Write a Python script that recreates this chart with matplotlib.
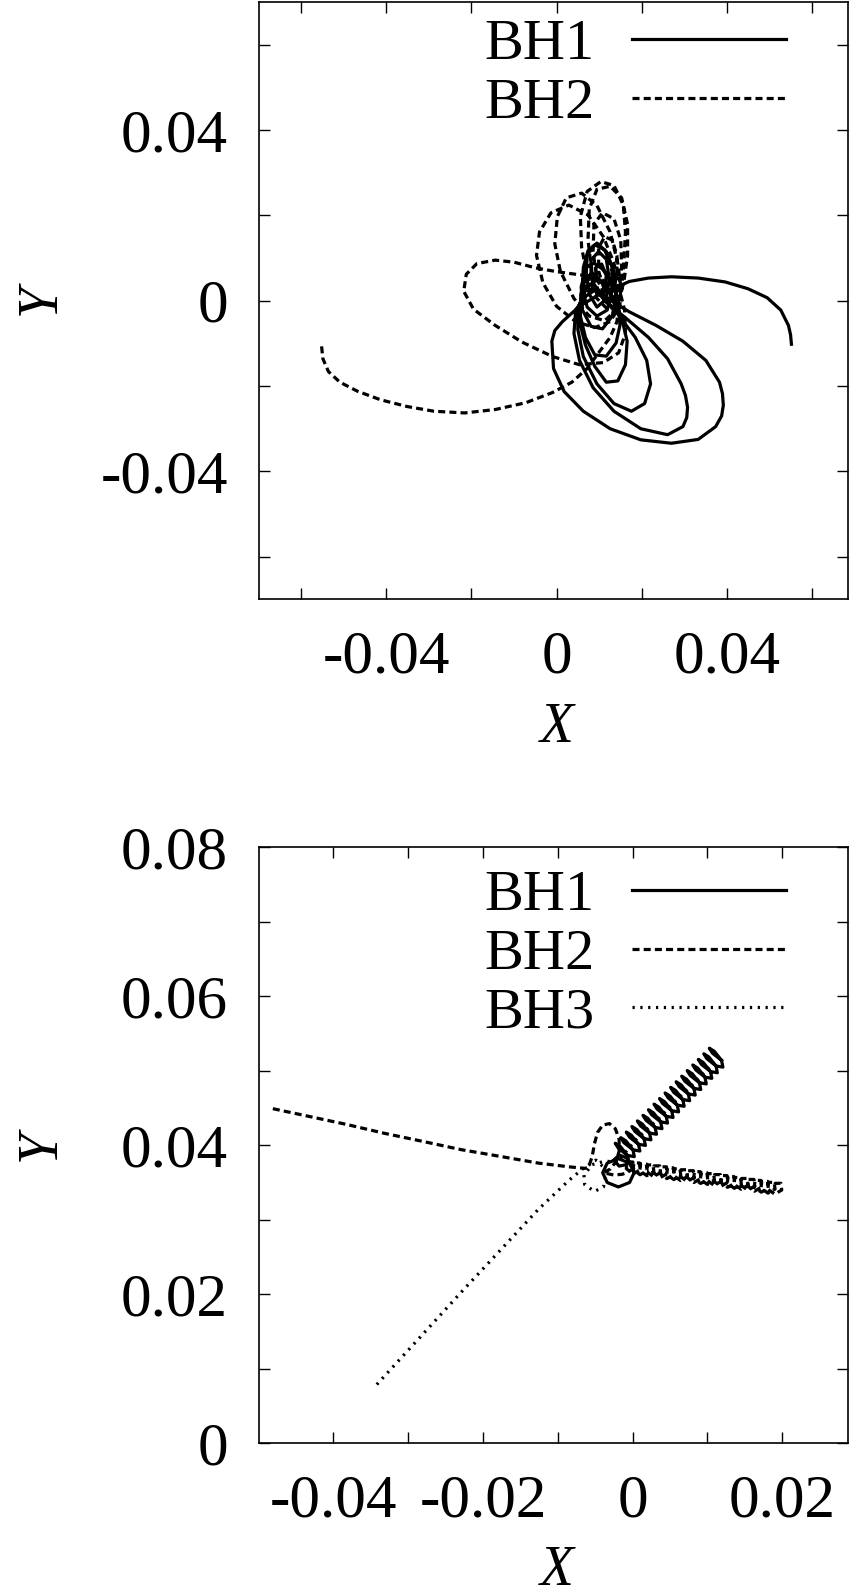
import numpy as np
import matplotlib
matplotlib.use("Agg")
import matplotlib.pyplot as plt

# ---------------- ticks ----------------
top_ticks = [-0.06, -0.04, -0.02, 0.0, 0.02, 0.04, 0.06]
top_ticklabels = ['', '-0.04', '', '0', '', '0.04', '']
bot_xticks = [-0.04, -0.03, -0.02, -0.01, 0.0, 0.01, 0.02]
bot_xticklabels = ['-0.04', '', '-0.02', '', '0', '', '0.02']
bot_yticks = [0.0, 0.01, 0.02, 0.03, 0.04, 0.05, 0.06, 0.07, 0.08]
bot_yticklabels = ['0', '', '0.02', '', '0.04', '', '0.06', '', '0.08']

# ---------------- top panel: two holes (x, y) ----------------
top_bh1 = [
    (0.0552, -0.0102), (0.0550, -0.0080), (0.0545, -0.0058), (0.0527, -0.0022), (0.0495, 0.0007),
    (0.0450, 0.0028), (0.0396, 0.0044), (0.0333, 0.0053), (0.0270, 0.0056), (0.0216, 0.0053),
    (0.0171, 0.0045), (0.0144, 0.0033), (0.0108, 0.0019), (0.0054, -0.0013),
    (0.0014, -0.0049), (-0.0004, -0.0070), (-0.0011, -0.0095), (-0.0007, -0.0159), (0.0018, -0.0213),
    (0.0063, -0.0259), (0.0126, -0.0300), (0.0198, -0.0326), (0.0270, -0.0334), (0.0333, -0.0325),
    (0.0374, -0.0295), (0.0388, -0.0270), (0.0392, -0.0245), (0.0390, -0.0218), (0.0383, -0.0191),
    (0.0351, -0.0140), (0.0297, -0.0095), (0.0234, -0.0058), (0.0171, -0.0026), (0.0126, 0.0001),
    (0.0095, 0.0028),
    (0.0068, 0.0010), (0.0045, -0.0022), (0.0041, -0.0077), (0.0054, -0.0140), (0.0086, -0.0204),
    (0.0135, -0.0259), (0.0198, -0.0300), (0.0261, -0.0314), (0.0297, -0.0295), (0.0306, -0.0274),
    (0.0308, -0.0250), (0.0303, -0.0222), (0.0293, -0.0195), (0.0261, -0.0136), (0.0216, -0.0086),
    (0.0162, -0.0040), (0.0117, -0.0004), (0.0090, 0.0028),
    (0.0068, 0.0024), (0.0052, -0.0013), (0.0050, -0.0067), (0.0063, -0.0131), (0.0095, -0.0195),
    (0.0135, -0.0241), (0.0176, -0.0259), (0.0207, -0.0241), (0.0221, -0.0195), (0.0212, -0.0140),
    (0.0185, -0.0086), (0.0144, -0.0031), (0.0108, 0.0010), (0.0086, 0.0042),
    (0.0068, 0.0033), (0.0056, -0.0004), (0.0054, -0.0049), (0.0068, -0.0104), (0.0090, -0.0154),
    (0.0117, -0.0191), (0.0144, -0.0188), (0.0162, -0.0150), (0.0166, -0.0095), (0.0153, -0.0040),
    (0.0131, 0.0010), (0.0104, 0.0047), (0.0084, 0.0065),
    (0.0068, 0.0051), (0.0057, 0.0015), (0.0056, -0.0036), (0.0068, -0.0086), (0.0090, -0.0127),
    (0.0117, -0.0130), (0.0140, -0.0099), (0.0149, -0.0058), (0.0146, -0.0004), (0.0131, 0.0042),
    (0.0108, 0.0074), (0.0088, 0.0088),
    (0.0070, 0.0078), (0.0058, 0.0033), (0.0061, -0.0022), (0.0081, -0.0060), (0.0108, -0.0066),
    (0.0131, -0.0036), (0.0140, 0.0015), (0.0135, 0.0069), (0.0117, 0.0115), (0.0095, 0.0135),
    (0.0074, 0.0117),
    (0.0063, 0.0078), (0.0061, 0.0028), (0.0072, -0.0015), (0.0095, -0.0036), (0.0119, -0.0022),
    (0.0131, 0.0024), (0.0131, 0.0078), (0.0113, 0.0119), (0.0090, 0.0131), (0.0072, 0.0106),
    (0.0070, 0.0065), (0.0077, 0.0015), (0.0095, -0.0015), (0.0117, 0.0004), (0.0124, 0.0051),
    (0.0117, 0.0097), (0.0099, 0.0115), (0.0081, 0.0095),
    (0.0081, 0.0056), (0.0095, 0.0015), (0.0113, 0.0024), (0.0117, 0.0060), (0.0106, 0.0086),
    (0.0092, 0.0077), (0.0095, 0.0047),
]

top_bh2 = [
    (-0.0552, -0.0107), (-0.0549, -0.0136), (-0.0536, -0.0166), (-0.0509, -0.0191), (-0.0468, -0.0212),
    (-0.0414, -0.0232), (-0.0351, -0.0248), (-0.0288, -0.0259), (-0.0216, -0.0263), (-0.0144, -0.0255),
    (-0.0072, -0.0239), (-0.0009, -0.0215), (0.0036, -0.0191), (0.0072, -0.0159), (0.0099, -0.0122),
    (0.0126, -0.0086), (0.0142, -0.0049), (0.0146, -0.0008), (0.0135, 0.0028), (0.0106, 0.0050),
    (0.0059, 0.0060), (0.0000, 0.0068), (-0.0050, 0.0077), (-0.0099, 0.0090), (-0.0144, 0.0095),
    (-0.0187, 0.0087), (-0.0212, 0.0062), (-0.0218, 0.0022), (-0.0195, -0.0020), (-0.0144, -0.0058),
    (-0.0081, -0.0097), (-0.0009, -0.0131), (0.0054, -0.0150), (0.0110, -0.0145), (0.0146, -0.0122),
    (0.0162, -0.0077), (0.0160, -0.0022), (0.0146, 0.0033),
    (0.0135, 0.0088), (0.0110, 0.0150), (0.0074, 0.0201), (0.0029, 0.0224), (-0.0013, 0.0206),
    (-0.0040, 0.0161), (-0.0047, 0.0106), (-0.0032, 0.0042), (0.0000, -0.0013), (0.0045, -0.0049),
    (0.0090, -0.0063), (0.0126, -0.0049), (0.0149, -0.0013), (0.0151, 0.0033),
    (0.0144, 0.0088), (0.0126, 0.0161), (0.0095, 0.0223), (0.0059, 0.0252), (0.0023, 0.0241),
    (0.0002, 0.0197), (-0.0004, 0.0133), (0.0009, 0.0069), (0.0041, 0.0005), (0.0077, -0.0036),
    (0.0113, -0.0047), (0.0140, -0.0022), (0.0153, 0.0024),
    (0.0158, 0.0088), (0.0162, 0.0161), (0.0157, 0.0224), (0.0135, 0.0270), (0.0104, 0.0279),
    (0.0072, 0.0256), (0.0056, 0.0197), (0.0059, 0.0124), (0.0072, 0.0060), (0.0095, 0.0005),
    (0.0122, -0.0022), (0.0144, -0.0005), (0.0158, 0.0042),
    (0.0167, 0.0106), (0.0167, 0.0179), (0.0153, 0.0241), (0.0126, 0.0268), (0.0095, 0.0261),
    (0.0077, 0.0215), (0.0074, 0.0142), (0.0083, 0.0069), (0.0101, 0.0015), (0.0126, -0.0004),
    (0.0144, 0.0024),
    (0.0153, 0.0078), (0.0151, 0.0142), (0.0135, 0.0192), (0.0108, 0.0206), (0.0088, 0.0179),
    (0.0086, 0.0115), (0.0095, 0.0051), (0.0113, 0.0015), (0.0133, 0.0024), (0.0142, 0.0060),
    (0.0142, 0.0106), (0.0131, 0.0142), (0.0113, 0.0150), (0.0099, 0.0124), (0.0099, 0.0069),
    (0.0110, 0.0033), (0.0126, 0.0037), (0.0131, 0.0069), (0.0122, 0.0088),
]

# ---------------- bottom panel: three holes ----------------
bot_bh1 = [
    (0.0002, 0.0363), (-0.0004, 0.0376), (-0.0019, 0.0382), (-0.0034, 0.0376), (-0.0040, 0.0363),
    (-0.0034, 0.0350), (-0.0019, 0.0344), (-0.0004, 0.0350), (0.0002, 0.0363),
    (0.0000, 0.0372), (-0.0008, 0.0383), (-0.0018, 0.0387), (-0.0025, 0.0380), (-0.0018, 0.0372),
    (-0.0008, 0.0374),
    (-0.00051, 0.03772), (-0.00069, 0.03863), (-0.00165, 0.03984), (-0.00232, 0.04026), (-0.00190, 0.03959), (-0.00068, 0.03863),
    (0.00023, 0.03847), (0.00005, 0.03938), (-0.00091, 0.04059), (-0.00158, 0.04101), (-0.00116, 0.04034), (0.00006, 0.03938),
    (0.00097, 0.03922), (0.00079, 0.04013), (-0.00017, 0.04134), (-0.00084, 0.04176), (-0.00042, 0.04109), (0.00080, 0.04013),
    (0.00171, 0.03997), (0.00153, 0.04088), (0.00057, 0.04209), (-0.00010, 0.04251), (0.00032, 0.04184), (0.00154, 0.04088),
    (0.00245, 0.04072), (0.00227, 0.04163), (0.00131, 0.04284), (0.00064, 0.04326), (0.00106, 0.04259), (0.00228, 0.04163),
    (0.00319, 0.04147), (0.00301, 0.04238), (0.00205, 0.04359), (0.00138, 0.04401), (0.00180, 0.04334), (0.00302, 0.04238),
    (0.00393, 0.04222), (0.00375, 0.04313), (0.00279, 0.04434), (0.00212, 0.04476), (0.00254, 0.04409), (0.00376, 0.04313),
    (0.00467, 0.04297), (0.00449, 0.04388), (0.00353, 0.04509), (0.00286, 0.04551), (0.00328, 0.04484), (0.00450, 0.04388),
    (0.00541, 0.04372), (0.00523, 0.04463), (0.00427, 0.04584), (0.00360, 0.04626), (0.00402, 0.04559), (0.00524, 0.04463),
    (0.00615, 0.04447), (0.00597, 0.04538), (0.00501, 0.04659), (0.00434, 0.04701), (0.00476, 0.04634), (0.00598, 0.04538),
    (0.00689, 0.04522), (0.00671, 0.04613), (0.00575, 0.04734), (0.00508, 0.04776), (0.00550, 0.04709), (0.00672, 0.04613),
    (0.00763, 0.04597), (0.00745, 0.04688), (0.00649, 0.04809), (0.00582, 0.04851), (0.00624, 0.04784), (0.00746, 0.04688),
    (0.00837, 0.04672), (0.00819, 0.04763), (0.00723, 0.04884), (0.00656, 0.04926), (0.00698, 0.04859), (0.00820, 0.04763),
    (0.00911, 0.04747), (0.00893, 0.04838), (0.00797, 0.04959), (0.00730, 0.05001), (0.00772, 0.04934), (0.00894, 0.04838),
    (0.00985, 0.04822), (0.00967, 0.04913), (0.00871, 0.05034), (0.00804, 0.05076), (0.00846, 0.05009), (0.00968, 0.04913),
    (0.01059, 0.04897), (0.01041, 0.04988), (0.00945, 0.05109), (0.00878, 0.05151), (0.00920, 0.05084), (0.01042, 0.04988),
    (0.01133, 0.04972), (0.01115, 0.05063), (0.01019, 0.05184), (0.00952, 0.05226), (0.00994, 0.05159), (0.01116, 0.05063),
    (0.01207, 0.05047), (0.01189, 0.05138), (0.01093, 0.05259), (0.01026, 0.05301), (0.01068, 0.05234), (0.01190, 0.05138),
]

bot_bh2 = [
    (-0.0481, 0.0449), (-0.0434, 0.0439), (-0.0383, 0.0428), (-0.0332, 0.0416), (-0.0280, 0.0405),
    (-0.0229, 0.0394), (-0.0177, 0.0385), (-0.0126, 0.0376), (-0.0085, 0.0371), (-0.0064, 0.0369),
    (-0.0059, 0.0370), (-0.0054, 0.0385), (-0.0051, 0.0402), (-0.0047, 0.0417), (-0.0040, 0.0427),
    (-0.0031, 0.0429), (-0.0023, 0.0422), (-0.0018, 0.0408), (-0.0018, 0.0392), (-0.0022, 0.0378),
    (-0.0030, 0.0368), (-0.0039, 0.0363), (-0.0025, 0.0360), (-0.0014, 0.0361),
    (-0.00080, 0.03630), (0.00014, 0.03685), (0.00003, 0.03775), (-0.00073, 0.03775), (-0.00084, 0.03685),
    (0.00010, 0.03617), (0.00104, 0.03672), (0.00093, 0.03762), (0.00017, 0.03762), (0.00006, 0.03672),
    (0.00100, 0.03604), (0.00194, 0.03659), (0.00183, 0.03749), (0.00107, 0.03749), (0.00096, 0.03659),
    (0.00190, 0.03591), (0.00284, 0.03646), (0.00273, 0.03736), (0.00197, 0.03736), (0.00186, 0.03646),
    (0.00280, 0.03578), (0.00374, 0.03633), (0.00363, 0.03723), (0.00287, 0.03723), (0.00276, 0.03633),
    (0.00370, 0.03565), (0.00464, 0.03620), (0.00453, 0.03710), (0.00377, 0.03710), (0.00366, 0.03620),
    (0.00460, 0.03552), (0.00554, 0.03607), (0.00543, 0.03697), (0.00467, 0.03697), (0.00456, 0.03607),
    (0.00550, 0.03539), (0.00644, 0.03594), (0.00633, 0.03684), (0.00557, 0.03684), (0.00546, 0.03594),
    (0.00640, 0.03526), (0.00734, 0.03581), (0.00723, 0.03671), (0.00647, 0.03671), (0.00636, 0.03581),
    (0.00730, 0.03513), (0.00824, 0.03568), (0.00813, 0.03658), (0.00737, 0.03658), (0.00726, 0.03568),
    (0.00820, 0.03500), (0.00914, 0.03555), (0.00903, 0.03645), (0.00827, 0.03645), (0.00816, 0.03555),
    (0.00910, 0.03487), (0.01004, 0.03542), (0.00993, 0.03632), (0.00917, 0.03632), (0.00906, 0.03542),
    (0.01000, 0.03474), (0.01094, 0.03529), (0.01083, 0.03619), (0.01007, 0.03619), (0.00996, 0.03529),
    (0.01090, 0.03461), (0.01184, 0.03516), (0.01173, 0.03606), (0.01097, 0.03606), (0.01086, 0.03516),
    (0.01180, 0.03448), (0.01274, 0.03503), (0.01263, 0.03593), (0.01187, 0.03593), (0.01176, 0.03503),
    (0.01270, 0.03435), (0.01364, 0.03490), (0.01353, 0.03580), (0.01277, 0.03580), (0.01266, 0.03490),
    (0.01360, 0.03422), (0.01454, 0.03477), (0.01443, 0.03567), (0.01367, 0.03567), (0.01356, 0.03477),
    (0.01450, 0.03409), (0.01544, 0.03464), (0.01533, 0.03554), (0.01457, 0.03554), (0.01446, 0.03464),
    (0.01540, 0.03396), (0.01634, 0.03451), (0.01623, 0.03541), (0.01547, 0.03541), (0.01536, 0.03451),
    (0.01630, 0.03383), (0.01724, 0.03438), (0.01713, 0.03528), (0.01637, 0.03528), (0.01626, 0.03438),
    (0.01720, 0.03370), (0.01814, 0.03425), (0.01803, 0.03515), (0.01727, 0.03515), (0.01716, 0.03425),
    (0.01810, 0.03357), (0.01904, 0.03412), (0.01893, 0.03502), (0.01817, 0.03502), (0.01806, 0.03412),
    (0.01900, 0.03344), (0.01994, 0.03399), (0.01983, 0.03489), (0.01907, 0.03489), (0.01896, 0.03399),
]

bot_bh3 = [
    (-0.0342, 0.0079), (-0.0280, 0.0147), (-0.0229, 0.0203), (-0.0177, 0.0259), (-0.0126, 0.0314),
    (-0.0085, 0.0353), (-0.0067, 0.0368), (-0.0049, 0.0380), (-0.0034, 0.0366), (-0.0039, 0.0344),
    (-0.0051, 0.0338), (-0.0064, 0.0347), (-0.0065, 0.0360), (-0.0054, 0.0374), (-0.0036, 0.0379),
    (-0.0021, 0.0376), (-0.0010, 0.0390), (0.0005, 0.0408), (0.0020, 0.0422), (0.0035, 0.0436),
    (0.0050, 0.0452), (0.0065, 0.0467), (0.0080, 0.0481), (0.0095, 0.0497), (0.0110, 0.0511),
]

plt.rcParams['font.family'] = ['Liberation Serif', 'DejaVu Serif']
TICK_FS = 44
LEG_FS = 42
LAB_FS = 40
LW = 2.3
solid = '-'
dashed = (0, (2.2, 1.3))
dotted = (0, (0.7, 1.75))


def style_axes(ax):
    ax.tick_params(direction='in', top=True, right=True, length=8, width=1.0,
                   labelsize=TICK_FS, pad=22)
    for s in ax.spines.values():
        s.set_linewidth(1.2)


fig = plt.figure(figsize=(8.51, 15.96), dpi=100)

# top panel
ax1 = fig.add_axes([0.3039, 0.6244, 0.6926, 0.3744])
p = np.array(top_bh1).T
ax1.plot(p[0], p[1], color='black', lw=LW, ls=solid, label='BH1')
p = np.array(top_bh2).T
ax1.plot(p[0], p[1], color='black', lw=LW, ls=dashed, label='BH2')
ax1.set_xlim(-0.07, 0.0685)
ax1.set_ylim(-0.07, 0.07)
ax1.set_xticks(top_ticks)
ax1.set_xticklabels(top_ticklabels)
ax1.set_yticks(top_ticks)
ax1.set_yticklabels(top_ticklabels)
style_axes(ax1)
ax1.legend(loc='upper right', bbox_to_anchor=(0.895, 0.972), frameon=False,
           markerfirst=False, handlelength=2.65, handletextpad=0.64,
           borderpad=0, borderaxespad=0, labelspacing=0.1, fontsize=LEG_FS)

# bottom panel
ax2 = fig.add_axes([0.3039, 0.0956, 0.6926, 0.3737])
p = np.array(bot_bh1).T
ax2.plot(p[0], p[1], color='black', lw=LW, ls=solid, label='BH1')
p = np.array(bot_bh2).T
ax2.plot(p[0], p[1], color='black', lw=LW, ls=dashed, label='BH2')
p = np.array(bot_bh3).T
ax2.plot(p[0], p[1], color='black', lw=LW, ls=dotted, label='BH3')
ax2.set_xlim(-0.05, 0.0288)
ax2.set_ylim(0, 0.08)
ax2.set_xticks(bot_xticks)
ax2.set_xticklabels(bot_xticklabels)
ax2.set_yticks(bot_yticks)
ax2.set_yticklabels(bot_yticklabels)
style_axes(ax2)
ax2.legend(loc='upper right', bbox_to_anchor=(0.895, 0.962), frameon=False,
           markerfirst=False, handlelength=2.65, handletextpad=0.64,
           borderpad=0, borderaxespad=0, labelspacing=0.1, fontsize=LEG_FS)

# axis labels
fig.text(0.0478, 0.812, 'Y', rotation=90, style='italic', fontsize=LAB_FS, ha='center', va='center')
fig.text(0.6545, 0.5439, 'X', style='italic', fontsize=LAB_FS, ha='center', va='center')
fig.text(0.0478, 0.282, 'Y', rotation=90, style='italic', fontsize=LAB_FS, ha='center', va='center')
fig.text(0.6545, 0.0155, 'X', style='italic', fontsize=LAB_FS, ha='center', va='center')

fig.savefig('out.png', dpi=100)
